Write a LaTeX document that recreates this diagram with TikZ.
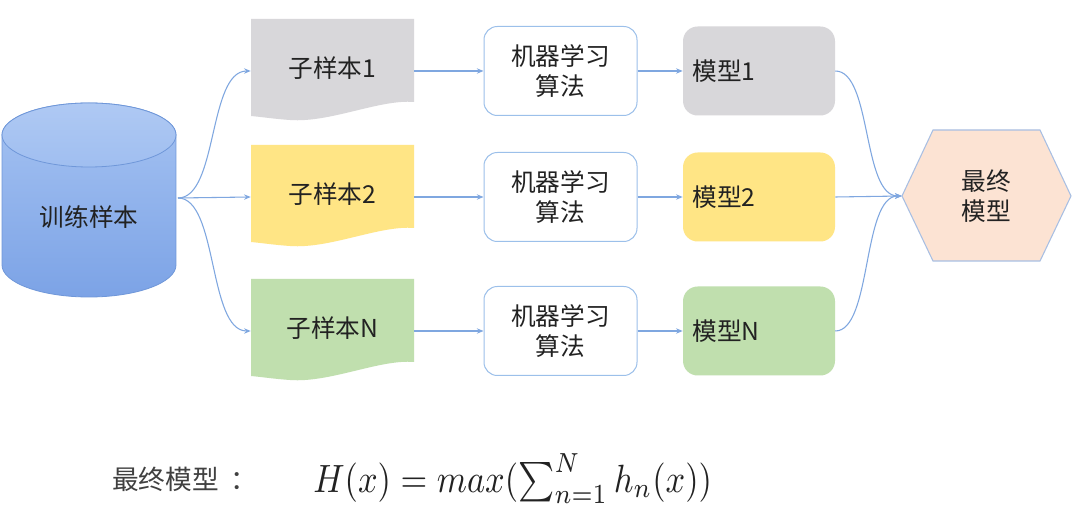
\documentclass[tikz,border=0pt]{standalone}
\usepackage{fontspec}
\newfontfamily\cjk{Noto Sans CJK SC}
\usetikzlibrary{arrows.meta,shapes.geometric}
\definecolor{linec}{HTML}{7FA7E0}
\definecolor{cylA}{HTML}{A6C3F2}
\definecolor{cylB}{HTML}{7CA3E6}
\definecolor{cylborder}{HTML}{6F97D9}
\definecolor{grayf}{HTML}{D8D7DA}
\definecolor{yellowf}{HTML}{FFE585}
\definecolor{greenf}{HTML}{C0DFAE}
\definecolor{algob}{HTML}{9CC0EA}
\definecolor{hexf}{HTML}{FCE3D3}
\definecolor{hexb}{HTML}{A8BFE3}
\definecolor{txt}{HTML}{222222}
\tikzset{
  lbl/.style={font=\fontsize{18.5pt}{23pt}\selectfont\cjk, text=txt, align=center},
  sample/.style={lbl, minimum width=122.25pt, minimum height=78pt, inner sep=0pt},
  algo/.style={lbl, draw=algob, line width=0.75pt, fill=white, rounded corners=10pt, minimum width=114.75pt, minimum height=66.75pt, inner sep=0pt},
  model/.style={lbl, rounded corners=11pt, minimum width=114pt, minimum height=66.75pt, text width=100pt, align=left, inner xsep=7pt, inner ysep=0pt},
  conn/.style={draw=linec, line width=0.8pt, -{Stealth[length=5pt,width=4pt]}},
}
\begin{document}
\begin{tikzpicture}[x=0.75pt,y=-0.75pt]
\useasboundingbox (0,0) rectangle (1074,509);
\fill[white] (0,0) rectangle (1074,509);

% cylinder
\shade[top color=cylA, bottom color=cylB, draw=cylborder, line width=0.6pt]
  (2,135) -- (2,265) arc[start angle=180, end angle=0, x radius=87, y radius=32]
  -- (176,135) arc[start angle=0, end angle=-180, x radius=87, y radius=32] -- cycle;
\shade[top color=cylA!90!white, bottom color=cylA!85!cylB, draw=cylborder, line width=0.6pt]
  (89,135) ellipse[x radius=87, y radius=32];
\node[lbl] (train) at (89,217) {训练样本};
\coordinate (cylR) at (178,198);

% document shapes
\fill[grayf] (251,19) -- (414,19) -- (414,102) .. controls (380,99) and (330,123) .. (290,120) .. controls (275,119) and (262,117) .. (251,116) -- cycle;
\fill[yellowf] (251,145) -- (414,145) -- (414,228) .. controls (380,225) and (330,249) .. (290,246) .. controls (275,245) and (262,243) .. (251,242) -- cycle;
\fill[greenf] (251,279) -- (414,279) -- (414,362) .. controls (380,359) and (330,383) .. (290,380) .. controls (275,379) and (262,377) .. (251,376) -- cycle;
\node[sample] (s1) at (332.5,71) {\raisebox{6pt}{子样本1}};
\node[sample] (s2) at (332.5,197) {\raisebox{6pt}{子样本2}};
\node[sample] (s3) at (332.5,331) {\raisebox{6pt}{子样本N}};

% algorithm boxes
\node[algo] (a1) at (560.5,71) {机器学习\\算法};
\node[algo] (a2) at (560.5,197) {机器学习\\算法};
\node[algo] (a3) at (560.5,331) {机器学习\\算法};

% models
\node[model, fill=grayf] (m1) at (759,71) {模型1};
\node[model, fill=yellowf] (m2) at (759,197) {模型2};
\node[model, fill=greenf] (m3) at (759,331) {模型N};

% final hexagon
\fill[hexf] (902,196) -- (933,130) -- (1040,130) -- (1071,196) -- (1040,261) -- (933,261) -- cycle;
\draw[hexb, line width=0.8pt, line join=miter] (902,196) -- (933,130) -- (1040,130) -- (1071,196) -- (1040,261) -- (933,261) -- cycle;
\node[lbl, inner sep=0pt, minimum width=126.75pt] (fin) at (986.5,196) {最终\\模型};

% connectors
\draw[conn] (cylR) .. controls (218,198) and (208,71) .. (s1.west);
\draw[conn] (cylR) -- (s2.west);
\draw[conn] (cylR) .. controls (218,198) and (208,331) .. (s3.west);
\draw[conn] (s1.east) -- (a1.west);
\draw[conn] (s2.east) -- (a2.west);
\draw[conn] (s3.east) -- (a3.west);
\draw[conn] (a1.east) -- (m1.west);
\draw[conn] (a2.east) -- (m2.west);
\draw[conn] (a3.east) -- (m3.west);
\draw[conn] (m1.east) .. controls (872,71) and (862,196) .. (fin.west);
\draw[conn] (m2.east) -- (fin.west);
\draw[conn] (m3.east) .. controls (872,331) and (862,196) .. (fin.west);

% formula
\node[anchor=west, inner sep=0pt, font=\fontsize{20pt}{22pt}\selectfont\cjk, text=black!75] (cap) at (112,479) {最终模型\hspace{9pt}：};
\node[anchor=base west, inner sep=0pt, text=txt] (form) at (313,492) {\resizebox{299pt}{29pt}{$H(x) = max(\sum_{n=1}^{N} h_n(x))$}};
\end{tikzpicture}
\end{document}
